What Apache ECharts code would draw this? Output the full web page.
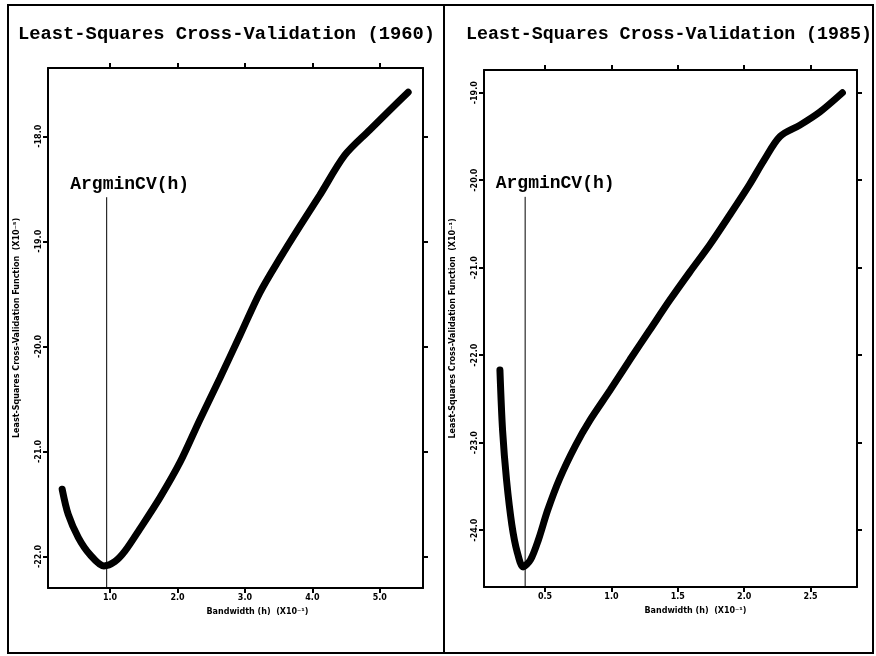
<!DOCTYPE html>
<html>
<head>
<meta charset="utf-8">
<script src="https://cdn.jsdelivr.net/npm/echarts@6/dist/echarts.min.js"></script>
<style>
  html, body { margin: 0; padding: 0; background: #fff; }
  #main { width: 876px; height: 656px; }
</style>
</head>
<body>
<div id="main"></div>
<script>
// values
var leftX = [0.29, 0.38, 0.53, 0.70, 0.91, 1.07, 1.22, 1.44, 1.74, 2.04, 2.33, 2.63, 2.93, 3.22, 3.52, 3.82, 4.11, 4.48, 4.85, 5.15, 5.42];
var leftY = [-21.36, -21.60, -21.82, -21.98, -22.09, -22.05, -21.95, -21.74, -21.44, -21.10, -20.70, -20.30, -19.89, -19.49, -19.16, -18.85, -18.56, -18.18, -17.94, -17.75, -17.58];
var rightX = [0.16, 0.18, 0.21, 0.25, 0.29, 0.335, 0.39, 0.45, 0.52, 0.61, 0.73, 0.84, 0.99, 1.14, 1.29, 1.44, 1.59, 1.74, 1.89, 2.04, 2.15, 2.27, 2.42, 2.57, 2.74];
var rightY = [-22.17, -22.86, -23.43, -23.94, -24.25, -24.42, -24.34, -24.11, -23.77, -23.41, -23.03, -22.74, -22.40, -22.05, -21.71, -21.37, -21.05, -20.74, -20.40, -20.05, -19.77, -19.50, -19.37, -19.22, -19.00];

var leftArgmin = 0.95, leftArgTop = -18.58;
var rightArgmin = 0.35, rightArgTop = -20.19;

var leftXTicks = [1, 2, 3, 4, 5];
var leftYTicks = [-22, -21, -20, -19, -18];
var rightXTicks = [0.5, 1.0, 1.5, 2.0, 2.5];
var rightYTicks = [-24, -23, -22, -21, -20, -19];

var titles = ['Least-Squares Cross-Validation (1960)', 'Least-Squares Cross-Validation (1985)'];
var xNames = ['Bandwidth (h)  (X10\u207B\u00B9)', 'Bandwidth (h)  (X10\u207B\u00B9)'];
var yNames = ['Least-Squares Cross-Validation Function  (X10\u207B\u2075)', 'Least-Squares Cross-Validation Function  (X10\u207B\u00B9)'];
var argLabel = 'ArgminCV(h)';

function zip(a, b) {
    return a.map(function (v, i) { return [v, b[i]]; });
}

var dom = document.getElementById('main');
var chart = echarts.init(dom);

var mono = 'Liberation Mono';
var small = { fontFamily: 'DejaVu Sans', fontWeight: 'bold', fontSize: 8, color: '#000' };
var lineStyle = { color: '#000', width: 2 };
var fmt = function (v) { return Number(v).toFixed(1); };

function xAx(grid, min, max, ticks, bottom, name, pad) {
    return {
        type: 'value', gridIndex: grid, min: min, max: max,
        position: bottom ? 'bottom' : 'top',
        name: bottom ? name : '', nameLocation: 'middle', nameGap: 20,
        nameTextStyle: Object.assign({ padding: [0, 0, 0, pad] }, small),
        axisLine: { show: true, onZero: false, lineStyle: lineStyle },
        axisTick: { show: true, length: 5, customValues: ticks, lineStyle: lineStyle },
        axisLabel: Object.assign({ show: bottom, customValues: ticks, formatter: fmt, margin: 6 }, small),
        splitLine: { show: false }
    };
}

function yAx(grid, min, max, ticks, left, name) {
    return {
        type: 'value', gridIndex: grid, min: min, max: max,
        position: left ? 'left' : 'right',
        name: left ? name : '', nameLocation: 'middle', nameGap: 27,
        nameTextStyle: small,
        axisLine: { show: true, onZero: false, lineStyle: lineStyle },
        axisTick: { show: true, length: 5, customValues: ticks, lineStyle: lineStyle },
        axisLabel: Object.assign({ show: left, customValues: ticks, formatter: fmt, rotate: 90, margin: 5 }, small),
        splitLine: { show: false }
    };
}

function argSeries(xi, yi, x, yMin, yTop, off) {
    return {
        type: 'line', xAxisIndex: xi, yAxisIndex: yi, silent: true,
        symbol: 'circle', symbolSize: 0.1, showSymbol: true,
        itemStyle: { color: '#000' },
        lineStyle: { color: '#000', width: 1 },
        label: { show: false },
        data: [
            [x, yMin],
            { value: [x, yTop], label: { show: true, position: 'top', distance: 4, offset: [off, 0],
              formatter: argLabel, fontFamily: mono, fontWeight: 'bold', fontSize: 18, color: '#000' } }
        ]
    };
}

option = {
    backgroundColor: '#fff',
    animation: false,
    title: [
        { text: titles[0], left: 13, top: 20, textStyle: { fontFamily: mono, fontWeight: 'bold', fontSize: 18.8, color: '#000' } },
        { text: titles[1], left: 461, top: 20, textStyle: { fontFamily: mono, fontWeight: 'bold', fontSize: 18.3, color: '#000' } }
    ],
    grid: [
        { left: 48, top: 68, right: 453, bottom: 68 },
        { left: 484, top: 70, right: 19, bottom: 69 }
    ],
    xAxis: [
        xAx(0, 0.08, 5.64, leftXTicks, true, xNames[0], 44),
        xAx(0, 0.08, 5.64, leftXTicks, false, '', 0),
        xAx(1, 0.04, 2.85, rightXTicks, true, xNames[1], 50),
        xAx(1, 0.04, 2.85, rightXTicks, false, '', 0)
    ],
    yAxis: [
        yAx(0, -22.3, -17.35, leftYTicks, true, yNames[0]),
        yAx(0, -22.3, -17.35, leftYTicks, false, ''),
        yAx(1, -24.65, -18.74, rightYTicks, true, yNames[1]),
        yAx(1, -24.65, -18.74, rightYTicks, false, '')
    ],
    graphic: [
        { type: 'rect', shape: { x: 8, y: 5, width: 865, height: 648 }, style: { fill: 'none', stroke: '#000', lineWidth: 2 } },
        { type: 'line', shape: { x1: 444, y1: 5, x2: 444, y2: 653 }, style: { stroke: '#000', lineWidth: 2 } }
    ],
    series: [
        {
            type: 'line', xAxisIndex: 0, yAxisIndex: 0, smooth: 0.3,
            symbol: 'none', lineStyle: { color: '#000', width: 7, cap: 'round' },
            data: zip(leftX, leftY)
        },
        argSeries(0, 0, leftArgmin, -22.3, leftArgTop, 23),
        {
            type: 'line', xAxisIndex: 2, yAxisIndex: 2, smooth: 0.3,
            symbol: 'none', lineStyle: { color: '#000', width: 7, cap: 'round' },
            data: zip(rightX, rightY)
        },
        argSeries(2, 2, rightArgmin, -24.65, rightArgTop, 30)
    ]
};

if (option && typeof option === 'object') {
    chart.setOption(option, true);
}
</script>
</body>
</html>
